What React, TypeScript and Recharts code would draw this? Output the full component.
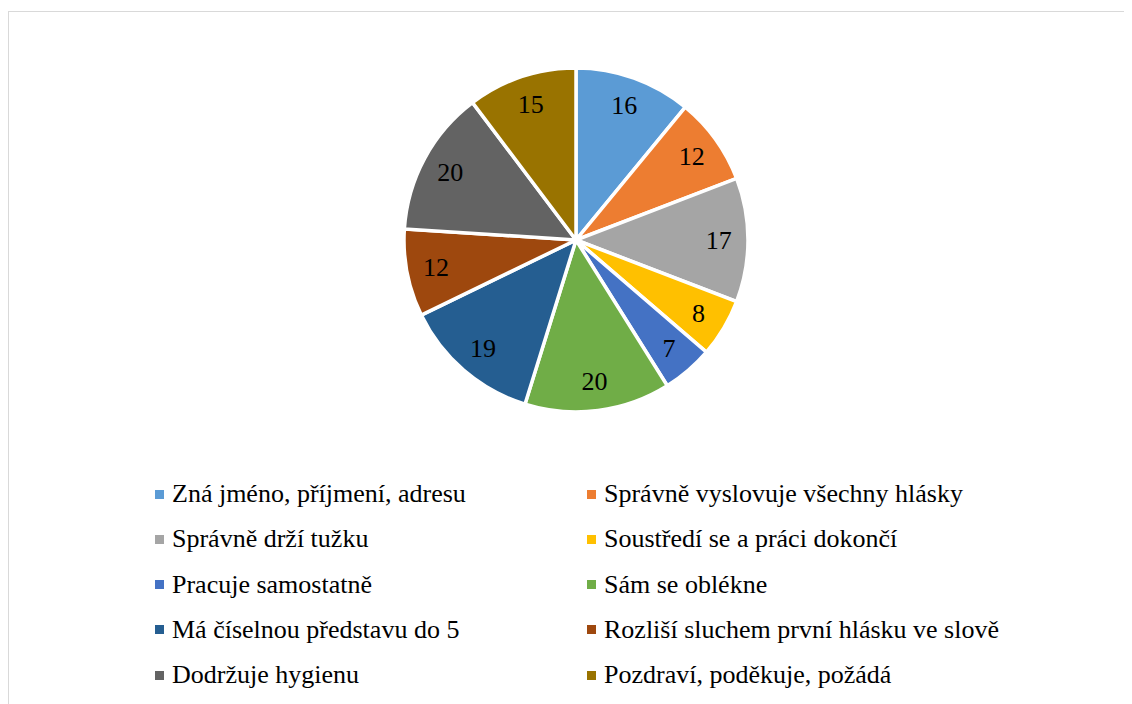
import React from 'react';
import { PieChart, Pie, Cell, Legend } from 'recharts';

const categories = [
  'Zná jméno, příjmení, adresu',
  'Správně vyslovuje všechny hlásky',
  'Správně drží tužku',
  'Soustředí se a práci dokončí',
  'Pracuje samostatně',
  'Sám se oblékne',
  'Má číselnou představu do 5',
  'Rozliší sluchem první hlásku ve slově',
  'Dodržuje hygienu',
  'Pozdraví, poděkuje, požádá',
];
const values = [16, 12, 17, 8, 7, 20, 19, 12, 20, 15];
const colors = ['#5B9BD5', '#ED7D31', '#A5A5A5', '#FFC000', '#4472C4', '#70AD47', '#255E91', '#9E480E', '#636363', '#997300'];

const data = categories.map((name, i) => ({ name, value: values[i] }));

const FONT = "'Liberation Serif', Tinos, 'Times New Roman', 'DejaVu Serif', serif";
const RAD = Math.PI / 180;

const renderLabel = (props: any) => {
  const { cx, cy, midAngle, outerRadius, value } = props;
  const r = outerRadius * 0.83;
  const x = cx + r * Math.cos(-midAngle * RAD);
  const y = cy + r * Math.sin(-midAngle * RAD);
  return (
    <text x={x} y={y} fill="#000" textAnchor="middle" dominantBaseline="central" style={{ fontFamily: FONT, fontSize: 26 }}>
      {value}
    </text>
  );
};

const LegendContent = () => (
  <div style={{ position: 'relative', width: 1124, height: 230, fontFamily: FONT, fontSize: 26, color: '#000' }}>
    {data.map((d, i) => {
      const col = i % 2;
      const row = Math.floor(i / 2);
      const left = col === 0 ? 147 : 579;
      const top = row * 45.3;
      return (
        <div key={d.name} style={{ position: 'absolute', left, top, height: 30, display: 'flex', alignItems: 'center', whiteSpace: 'nowrap' }}>
          <span style={{ display: 'inline-block', width: 9, height: 9, background: colors[i], marginRight: 8 }} />
          <span style={{ lineHeight: '30px', fontFamily: FONT }}>{d.name}</span>
        </div>
      );
    })}
  </div>
);

export default function App() {
  return (
    <div style={{ width: 1124, height: 696, position: 'relative', overflow: 'hidden', background: '#fff', fontFamily: FONT }}>
      <div style={{ position: 'absolute', left: 0, top: 3, width: 1200, height: 800, borderTop: '1px solid #d9d9d9', borderLeft: '1.5px solid #d9d9d9', boxSizing: 'border-box' }} />
      <div style={{ position: 'absolute', left: 0, top: 0 }}>
        <PieChart width={1124} height={696} margin={{ top: 0, right: 0, bottom: 0, left: 0 }}>
          <Pie
            data={data}
            dataKey="value"
            nameKey="name"
            cx={568}
            cy={232}
            outerRadius={172}
            startAngle={90}
            endAngle={-270}
            stroke="#fff"
            strokeWidth={3.5}
            label={renderLabel}
            labelLine={false}
            isAnimationActive={false}
          >
            {data.map((d, i) => (
              <Cell key={d.name} fill={colors[i]} />
            ))}
          </Pie>
          <Legend
            content={<LegendContent />}
            wrapperStyle={{ position: 'absolute', left: 0, top: 471, width: 1124 }}
          />
        </PieChart>
      </div>
    </div>
  );
}
